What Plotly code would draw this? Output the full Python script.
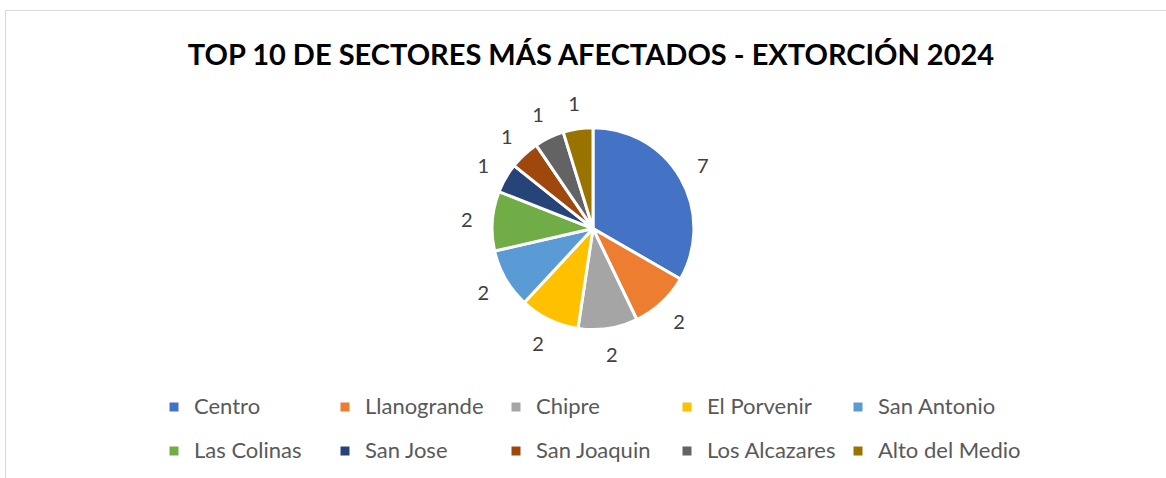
import plotly.graph_objects as go

sectores = ["Centro", "Llanogrande", "Chipre", "El Porvenir", "San Antonio",
            "Las Colinas", "San Jose", "San Joaquin", "Los Alcazares", "Alto del Medio"]
casos = [7, 2, 2, 2, 2, 2, 1, 1, 1, 1]
colores = ["#4472C4", "#ED7D31", "#A5A5A5", "#FFC000", "#5B9BD5",
           "#70AD47", "#264478", "#9E480E", "#636363", "#997300"]
titulo = "TOP 10 DE SECTORES MÁS AFECTADOS - EXTORCIÓN 2024"

W, H = 1166, 478
ML, MR = 140, 140
PW = W - ML - MR

def px_x(x):
    return (x - ML) / PW

def px_y(y):
    return 1 - y / H

cx, cy, r = 593, 231, 102
r_lab_out, r_lab_in = 145, 111

leg_labels = ['<span style="font-size:22px;baseline-shift:5px">%s</span>' % s for s in sectores]

def dom(rad):
    return dict(x=[px_x(cx - rad), px_x(cx + rad)], y=[px_y(cy + rad), px_y(cy - rad)])

fig = go.Figure()
fig.add_trace(go.Pie(
    labels=leg_labels,
    values=casos,
    sort=False,
    direction="clockwise",
    rotation=0,
    marker=dict(colors=colores, line=dict(color="white", width=3)),
    textinfo="none",
    domain=dom(r),
    hoverinfo="skip",
))
# ring of data labels (transparent) around the pie
fig.add_trace(go.Pie(
    labels=leg_labels,
    values=casos,
    sort=False,
    direction="clockwise",
    rotation=0,
    hole=r_lab_in / r_lab_out,
    marker=dict(colors=["rgba(0,0,0,0)"] * len(casos), line=dict(width=0)),
    textinfo="value",
    textposition="inside",
    insidetextorientation="horizontal",
    insidetextfont=dict(family="Lato", size=20, color="#404040"),
    domain=dom(r_lab_out),
    hoverinfo="skip",
    showlegend=False,
))

fig.update_layout(
    width=W, height=H,
    margin=dict(l=ML, r=MR, t=0, b=0),
    paper_bgcolor="white",
    plot_bgcolor="white",
    uniformtext=dict(minsize=20, mode="show"),
    title=dict(text="<b>%s</b>" % titulo, x=px_x(591), xref="paper", xanchor="center",
               y=1 - 55 / H, yref="container", yanchor="middle",
               font=dict(family="Lato", size=29, color="black")),
    showlegend=True,
    legend=dict(orientation="h", x=px_x(169), xanchor="left",
                y=px_y(384), yanchor="top",
                indentation=-15,
                entrywidth=141, entrywidthmode="pixels",
                font=dict(family="Lato", size=31.5, color="#595959"),
                traceorder="normal"),
    shapes=[dict(type="rect", xref="paper", yref="paper",
                 x0=px_x(5.5), x1=px_x(1200), y0=px_y(10.5), y1=px_y(520),
                 line=dict(color="#D9D9D9", width=1), fillcolor="rgba(0,0,0,0)",
                 layer="below")],
)

fig.write_html("out.html", config={"displayModeBar": False},
               post_script="document.body.style.margin='0';")
